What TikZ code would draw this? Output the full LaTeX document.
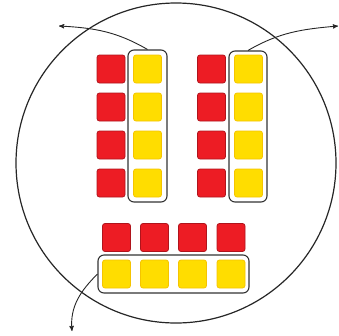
\documentclass[tikz,border=0pt]{standalone}
\usepackage{tikz}
\usetikzlibrary{arrows}
\definecolor{cubered}{HTML}{ED1C24}
\definecolor{cubeedge}{HTML}{B0141C}
\definecolor{cubeyellow}{HTML}{FFDD00}
\definecolor{cubeyedge}{HTML}{F5C400}
\tikzset{
 redcube/.style={rectangle,draw=cubeedge,fill=cubered,line width=0.8pt,rounded corners=2.5pt,minimum size=28pt,inner sep=0pt},
 yellowcube/.style={rectangle,draw=cubeyedge,fill=cubeyellow,line width=0.8pt,rounded corners=2.5pt,minimum size=28pt,inner sep=0pt},
 groupbox/.style={rectangle,draw=black!80,line width=1.1pt,rounded corners=6pt,inner sep=0pt},
 pointer/.style={draw=black!85,line width=0.9pt,-stealth'}
}
\begin{document}
\begin{tikzpicture}[x=1pt,y=-1pt]
 \useasboundingbox (0,0) rectangle (339,335);

 \node at (176,163) [circle,draw=black!85,line width=1.2pt,minimum size=320pt,inner sep=0pt] (ring) {};

 % left group
 \node at (111,69) [redcube] (1) {};
 \node at (111,107) [redcube] (2) {};
 \node at (111,145) [redcube] (3) {};
 \node at (111,183) [redcube] (4) {};
 \node at (147.5,126) [groupbox,minimum width=39pt,minimum height=152pt] (lbox) {};
 \node at (147.5,69) [yellowcube] (5) {};
 \node at (147.5,107) [yellowcube] (6) {};
 \node at (147.5,145) [yellowcube] (7) {};
 \node at (147.5,183) [yellowcube] (8) {};

 % right group
 \node at (211.5,69) [redcube] (9) {};
 \node at (211.5,107) [redcube] (10) {};
 \node at (211.5,145) [redcube] (11) {};
 \node at (211.5,183) [redcube] (12) {};
 \node at (248,126.5) [groupbox,minimum width=38pt,minimum height=151pt] (rbox) {};
 \node at (248.5,69) [yellowcube] (13) {};
 \node at (248.5,107) [yellowcube] (14) {};
 \node at (248.5,145) [yellowcube] (15) {};
 \node at (248.5,183) [yellowcube] (16) {};

 % bottom group
 \node at (116.5,237.5) [redcube] (17) {};
 \node at (154.5,237.5) [redcube] (18) {};
 \node at (192.5,237.5) [redcube] (19) {};
 \node at (231,237.5) [redcube] (20) {};
 \node at (173.5,274) [groupbox,minimum width=151pt,minimum height=38pt] (bbox) {};
 \node at (116.5,274) [yellowcube] (21) {};
 \node at (154.5,274) [yellowcube] (22) {};
 \node at (192.5,274) [yellowcube] (23) {};
 \node at (231,274) [yellowcube] (24) {};

 \coordinate (la) at (59,26);
 \coordinate (ra) at (338,26);
 \coordinate (ba) at (72,331);

 \draw[pointer] (lbox.north) to[out=150,in=-3] (la);
 \draw[pointer] (rbox.north) to[out=30,in=185] (ra);
 \draw[pointer] (bbox.west) to[out=225,in=95] (ba);
\end{tikzpicture}
\end{document}
